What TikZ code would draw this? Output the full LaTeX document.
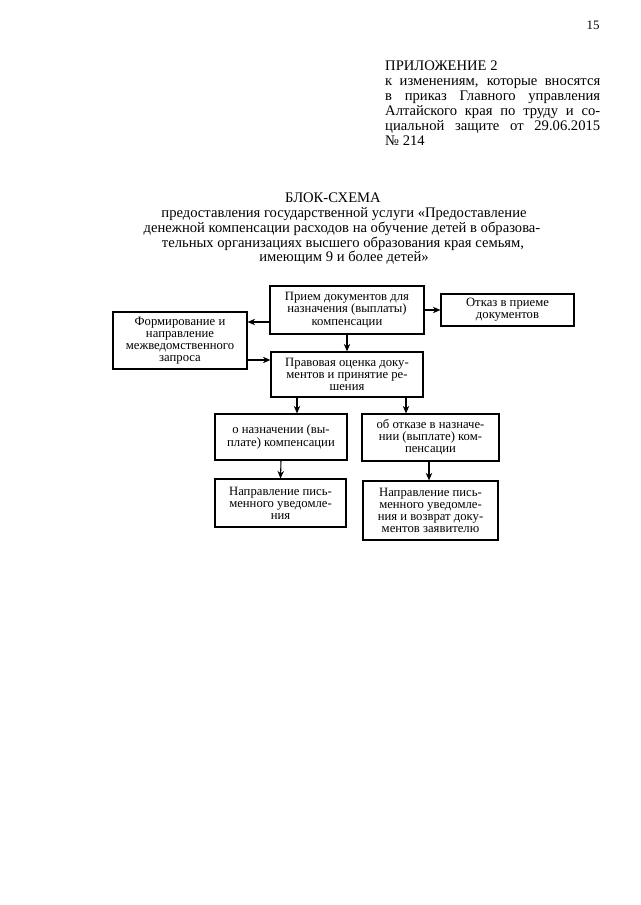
\documentclass[tikz,border=0pt]{standalone}
\usepackage{fontspec}
\setmainfont{Liberation Serif}
\usetikzlibrary{arrows.meta}
\begin{document}
\begin{tikzpicture}[x=0.9302pt,y=-0.9302pt,
  box/.style={draw,line width=1.1pt,rectangle,inner sep=1pt,align=center,
    font=\fontsize{11.8}{11.3}\selectfont},
  arr/.style={line width=1pt,-{Stealth[length=7pt,width=6pt]}},
  hdr/.style={anchor=base west,inner sep=0pt,font=\fontsize{13.6}{14}\selectfont},
  ttl/.style={anchor=base,inner sep=0pt,font=\fontsize{13.6}{14}\selectfont}]
\useasboundingbox[fill=white] (0,0) rectangle (640,905);

% page number
\node[anchor=base,inner sep=0pt,font=\fontsize{12}{12}\selectfont] (pg) at (593,30) {15};

% header
\node[hdr] (h1) at (385,71) {ПРИЛОЖЕНИЕ 2};
\node[hdr] (h2) at (385,86) {\makebox[200pt][s]{к изменениям, которые вносятся}};
\node[hdr] (h3) at (385,101) {\makebox[200pt][s]{в приказ Главного управления}};
\node[hdr] (h4) at (385,116) {\makebox[200pt][s]{Алтайского края по труду и со-}};
\node[hdr] (h5) at (385,131) {\makebox[200pt][s]{циальной защите от 29.06.2015}};
\node[hdr] (h6) at (385,145) {№ 214};

% title
\node[ttl] (t1) at (333,202) {БЛОК-СХЕМА};
\node[ttl] (t2) at (344,217) {предоставления государственной услуги «Предоставление};
\node[ttl] (t3) at (342,232) {денежной компенсации расходов на обучение детей в образова-};
\node[ttl] (t4) at (343,247) {тельных организациях высшего образования края семьям,};
\node[ttl] (t5) at (344,261) {имеющим 9 и более детей»};

% boxes
\node[box,minimum width=143.3pt,minimum height=44.6pt] (priem) at (347,310)
  {Прием документов для\\назначения (выплаты)\\компенсации};
\node[box,minimum width=123.7pt,minimum height=29.8pt] (otkaz) at (507.5,310)
  {Отказ в приеме\\документов};
\node[box,minimum width=124.6pt,minimum height=53pt] (form) at (180,340.5)
  {Формирование и\\направление\\межведомственного\\запроса};
\node[box,minimum width=141.4pt,minimum height=41.9pt] (pravo) at (347,374.5)
  {Правовая оценка доку-\\ментов и принятие ре-\\шения};
\node[box,minimum width=122.8pt,minimum height=42.8pt] (naz) at (281,437)
  {о назначении (вы-\\плате) компенсации};
\node[box,minimum width=127.4pt,minimum height=43.7pt] (otk) at (430.5,437.5)
  {об отказе в назначе-\\нии (выплате) ком-\\пенсации};
\node[box,minimum width=121.9pt,minimum height=44.6pt] (nap1) at (280.5,503)
  {Направление пись-\\менного уведомле-\\ния};
\node[box,minimum width=125.6pt,minimum height=54.9pt] (nap2) at (430.5,510.5)
  {Направление пись-\\менного уведомле-\\ния и возврат доку-\\ментов заявителю};

% connectors
\draw[arr] (priem.west |- 0,322) -- (form.east |- 0,322);
\draw[arr] (form.east |- 0,360) -- (pravo.west |- 0,360);
\draw[arr] (priem.east) -- (otkaz.west);
\draw[arr] (priem.south) -- (pravo.north);
\draw[arr] (pravo.south -| 297,0) -- (naz.north -| 297,0);
\draw[arr] (pravo.south -| 406,0) -- (otk.north -| 406,0);
\draw[arr] (naz.south) -- (nap1.north);
\draw[arr] (otk.south -| 429,0) -- (nap2.north -| 429,0);
\end{tikzpicture}
\end{document}
